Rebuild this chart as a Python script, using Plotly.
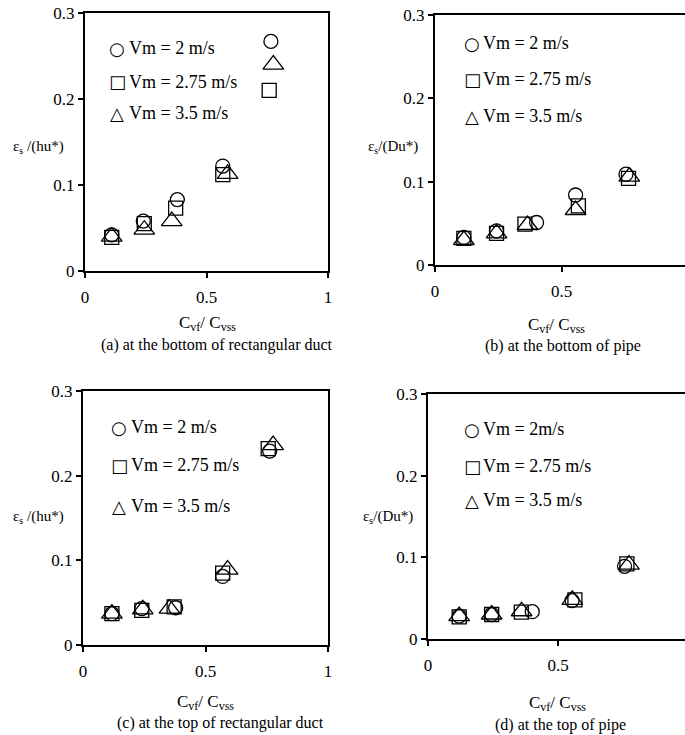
import plotly.graph_objects as go

W, H = 685, 735
FONT = "Liberation Serif"

# ---------------- data ----------------
# (a) bottom of rectangular duct
a_x_v2 = [0.11, 0.24, 0.38, 0.567, 0.765]
a_y_v2 = [0.042, 0.058, 0.083, 0.122, 0.267]
a_x_v275 = [0.11, 0.244, 0.373, 0.567, 0.758]
a_y_v275 = [0.039, 0.055, 0.073, 0.112, 0.210]
a_x_v35 = [0.11, 0.244, 0.357, 0.587, 0.775]
a_y_v35 = [0.040, 0.048, 0.058, 0.113, 0.240]

# (b) bottom of pipe
b_x_v2 = [0.114, 0.243, 0.401, 0.555, 0.754]
b_y_v2 = [0.033, 0.041, 0.051, 0.084, 0.109]
b_x_v275 = [0.114, 0.243, 0.355, 0.566, 0.764]
b_y_v275 = [0.032, 0.038, 0.049, 0.071, 0.104]
b_x_v35 = [0.114, 0.243, 0.365, 0.555, 0.767]
b_y_v35 = [0.030, 0.038, 0.048, 0.066, 0.106]

# (c) top of rectangular duct
c_x_v2 = [0.118, 0.240, 0.378, 0.570, 0.762]
c_y_v2 = [0.037, 0.043, 0.044, 0.081, 0.229]
c_x_v275 = [0.118, 0.240, 0.372, 0.570, 0.756]
c_y_v275 = [0.037, 0.041, 0.045, 0.085, 0.232]
c_x_v35 = [0.118, 0.244, 0.353, 0.590, 0.776]
c_y_v35 = [0.037, 0.042, 0.043, 0.089, 0.236]

# (d) top of pipe
d_x_v2 = [0.120, 0.245, 0.401, 0.554, 0.756]
d_y_v2 = [0.028, 0.030, 0.0335, 0.047, 0.089]
d_x_v275 = [0.120, 0.245, 0.359, 0.565, 0.765]
d_y_v275 = [0.027, 0.030, 0.033, 0.048, 0.092]
d_x_v35 = [0.120, 0.245, 0.360, 0.555, 0.773]
d_y_v35 = [0.028, 0.030, 0.034, 0.048, 0.091]

y_ticks = [0, 0.1, 0.2, 0.3]
y_ticktext = ["0", "0.1", "0.2", "0.3"]
x_ticks_full = [0, 0.5, 1]
x_ticktext_full = ["0", "0.5", "1"]
x_ticks_part = [0, 0.5]
x_ticktext_part = ["0", "0.5"]

legend_ab_c = ["Vm = 2 m/s", "Vm = 2.75 m/s", "Vm = 3.5 m/s"]
legend_d = ["Vm = 2m/s", "Vm = 2.75 m/s", "Vm = 3.5 m/s"]
captions = ["(a) at the bottom of rectangular duct", "(b) at the bottom of pipe",
            "(c) at the top of rectangular duct", "(d) at the top of pipe"]

SUB = "<span style='font-size:{fs}px;baseline-shift:-{sh}px'>{t}</span>"
ytitle_h = "ε" + SUB.format(fs=10, sh=3, t="s") + " /(hu*)"
ytitle_d = "ε" + SUB.format(fs=10, sh=3, t="s") + "/(Du*)"
xtitle = "C" + SUB.format(fs=12, sh=3, t="vf") + "/ C" + SUB.format(fs=12, sh=3, t="vss")


def px(x):
    return x / W


def py(y):
    return 1 - y / H


panels = [
    dict(xs=[a_x_v2, a_x_v275, a_x_v35], ys=[a_y_v2, a_y_v275, a_y_v35],
         dom_x=(85, 328), dom_y=(13, 271), xr=[0, 1], full=True,
         ytitle=ytitle_h, ytpos=(38, 147), xtpos=(207, 323), cappos=(217, 345),
         leg=legend_ab_c, legsym_x=117, legtxt_x=127, legy=[48, 82, 113]),
    dict(xs=[b_x_v2, b_x_v275, b_x_v35], ys=[b_y_v2, b_y_v275, b_y_v35],
         dom_x=(435, 685), dom_y=(15, 265), xr=[0, (685 - 435) / 253.3], full=False,
         ytitle=ytitle_d, ytpos=(393, 147), xtpos=(556, 325), cappos=(563, 346),
         leg=legend_ab_c, legsym_x=472, legtxt_x=481, legy=[43, 79, 116]),
    dict(xs=[c_x_v2, c_x_v275, c_x_v35], ys=[c_y_v2, c_y_v275, c_y_v35],
         dom_x=(83, 328), dom_y=(391, 645), xr=[0, 1], full=True,
         ytitle=ytitle_h, ytpos=(38, 517), xtpos=(205, 702), cappos=(220, 723),
         leg=legend_ab_c, legsym_x=119, legtxt_x=129, legy=[427, 465, 506]),
    dict(xs=[d_x_v2, d_x_v275, d_x_v35], ys=[d_y_v2, d_y_v275, d_y_v35],
         dom_x=(428, 685), dom_y=(394, 639), xr=[0, (685 - 428) / 260.0], full=False,
         ytitle=ytitle_d, ytpos=(388, 517), xtpos=(557, 703), cappos=(560, 725),
         leg=legend_d, legsym_x=472, legtxt_x=481, legy=[429, 466, 500]),
]

symbols = ["circle-open", "square-open", "triangle-up-open"]
sizes = [14, 14, 18]
leg_glyphs = ["○", "□", "△"]

fig = go.Figure()
layout = dict(width=W, height=H, margin=dict(l=0, r=0, t=0, b=0, autoexpand=False),
              paper_bgcolor="white", plot_bgcolor="white", showlegend=False,
              font=dict(family=FONT, color="black", size=16))
annotations = []

for i, p in enumerate(panels):
    n = "" if i == 0 else str(i + 1)
    xa, ya = "x" + n, "y" + n
    for k in range(3):
        fig.add_trace(go.Scatter(
            x=p["xs"][k], y=p["ys"][k], mode="markers", xaxis=xa, yaxis=ya,
            marker=dict(symbol=symbols[k], size=sizes[k], color="black",
                        line=dict(width=1.3, color="black")),
            cliponaxis=False, hoverinfo="skip"))
    full = p["full"]
    layout["xaxis" + n] = dict(
        domain=[px(p["dom_x"][0]), px(p["dom_x"][1])], range=p["xr"],
        anchor=ya, showline=True, linecolor="black", linewidth=2, mirror=True,
        ticks="outside", ticklen=5, tickwidth=1.5, tickcolor="black",
        tickvals=x_ticks_full if full else x_ticks_part,
        ticktext=x_ticktext_full if full else x_ticktext_part,
        ticklabelstandoff=5, showgrid=False, zeroline=False, automargin=False,
        tickfont=dict(family=FONT, size=17, color="black"))
    layout["yaxis" + n] = dict(
        domain=[py(p["dom_y"][1]), py(p["dom_y"][0])], range=[0, 0.3],
        anchor=xa, showline=True, linecolor="black", linewidth=2, mirror=full,
        ticks="outside", ticklen=5, tickwidth=1.5, tickcolor="black",
        tickvals=y_ticks, ticktext=y_ticktext, showgrid=False, zeroline=False,
        automargin=False, tickfont=dict(family=FONT, size=17, color="black"))

    annotations.append(dict(text=p["ytitle"], x=px(p["ytpos"][0]), y=py(p["ytpos"][1]),
                            xref="paper", yref="paper", showarrow=False,
                            xanchor="center", yanchor="middle",
                            font=dict(family=FONT, size=15)))
    annotations.append(dict(text=xtitle, x=px(p["xtpos"][0]), y=py(p["xtpos"][1]),
                            xref="paper", yref="paper", showarrow=False,
                            xanchor="center", yanchor="middle",
                            font=dict(family=FONT, size=17)))
    annotations.append(dict(text=captions[i], x=px(p["cappos"][0]), y=py(p["cappos"][1]),
                            xref="paper", yref="paper", showarrow=False,
                            xanchor="center", yanchor="middle",
                            font=dict(family=FONT, size=16)))
    for k in range(3):
        annotations.append(dict(text=leg_glyphs[k], x=px(p["legsym_x"]), y=py(p["legy"][k]),
                                xref="paper", yref="paper", showarrow=False,
                                xanchor="center", yanchor="middle",
                                font=dict(family="DejaVu Sans", size=18)))
        annotations.append(dict(text=p["leg"][k], x=px(p["legtxt_x"]), y=py(p["legy"][k]),
                                xref="paper", yref="paper", showarrow=False,
                                xanchor="left", yanchor="middle",
                                font=dict(family=FONT, size=18)))

layout["annotations"] = annotations
fig.update_layout(**layout)
fig.write_html("out.html")
